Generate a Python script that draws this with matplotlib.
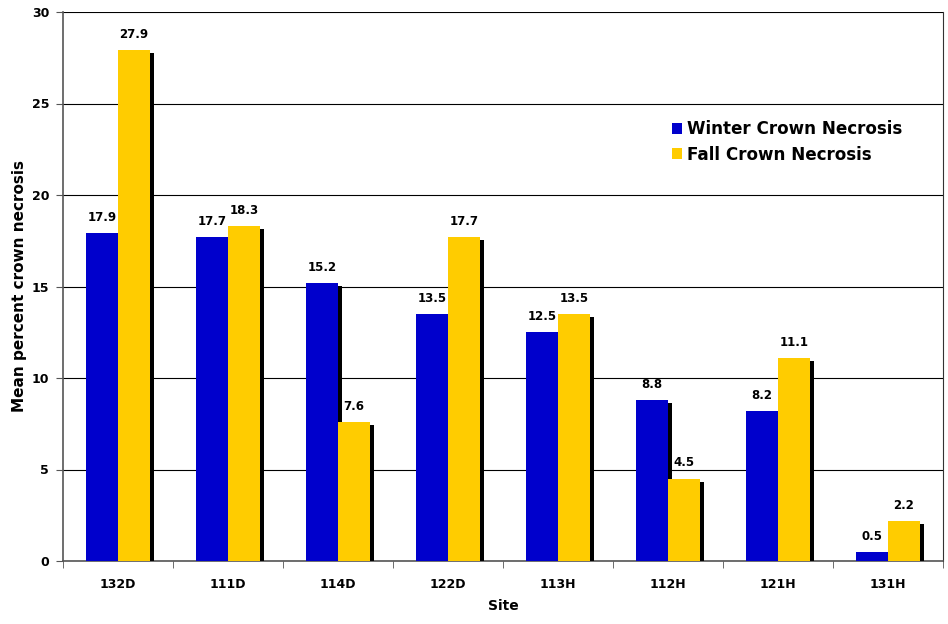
import matplotlib
matplotlib.use("Agg")
import matplotlib.pyplot as plt
import matplotlib.patheffects as pe
import numpy as np

sites = ["132D", "111D", "114D", "122D", "113H", "112H", "121H", "131H"]
winter = [17.9, 17.7, 15.2, 13.5, 12.5, 8.8, 8.2, 0.5]
fall = [27.9, 18.3, 7.6, 17.7, 13.5, 4.5, 11.1, 2.2]
series_names = ["Winter Crown Necrosis", "Fall Crown Necrosis"]
colors = ["#0000CC", "#FFCC00"]

plt.rcParams['font.family'] = ['DejaVu Sans']
fig = plt.figure(figsize=(9.48, 6.24), dpi=100)
ax = fig.add_axes([63/948, 63/624, 880/948, 549/624])

x = np.arange(len(sites))
w = 0.29
shadow = [pe.SimplePatchShadow(offset=(2.8, -2.2), shadow_rgbFace='black', alpha=1.0), pe.Normal()]
b1 = ax.bar(x - w/2, winter, w, color=colors[0], label=series_names[0], zorder=3, path_effects=shadow)
b2 = ax.bar(x + w/2, fall, w, color=colors[1], label=series_names[1], zorder=3, path_effects=shadow)

for xi, v in zip(x - w/2, winter):
    ax.text(xi, v + 0.5, f"{v:.1f}", ha='center', va='bottom', fontsize=8.5, fontweight='bold', zorder=4)
for xi, v in zip(x + w/2, fall):
    ax.text(xi, v + 0.5, f"{v:.1f}", ha='center', va='bottom', fontsize=8.5, fontweight='bold', zorder=4)

ax.set_xlim(-0.5, len(sites) - 0.5)
ax.set_ylim(0, 30)
ax.set_yticks(np.arange(0, 31, 5))
ax.yaxis.grid(True, color='black', linewidth=0.8, zorder=0)
ax.set_axisbelow(True)
ax.set_xticks(x)
ax.set_xticklabels(sites, fontsize=9, fontweight='bold')
ax.set_xticks(np.arange(-0.5, len(sites), 1), minor=True)
ax.tick_params(axis='x', which='major', length=0, pad=12)
ax.tick_params(axis='x', which='minor', length=5, direction='out', color='#555555')
ax.tick_params(axis='y', length=5, direction='out', labelsize=9, color='#555555', pad=5)
for lab in ax.get_yticklabels():
    lab.set_fontweight('bold')
for s in ['left', 'bottom']:
    ax.spines[s].set_color('#555555')
    ax.spines[s].set_linewidth(1.2)
ax.spines['top'].set_visible(False)
ax.spines['right'].set_color('#333333')
ax.spines['right'].set_linewidth(0.8)

ax.set_xlabel("Site", fontsize=10, fontweight='bold', labelpad=6)
ax.set_ylabel("Mean percent crown necrosis", fontsize=11, fontweight='bold', labelpad=3)

leg = ax.legend(loc='upper left', bbox_to_anchor=(0.675, 0.83), frameon=False,
                prop={'size': 12.1, 'weight': 'bold'}, handlelength=0.6, handleheight=0.6,
                handletextpad=0.3, labelspacing=0.42)
for h in leg.legend_handles:
    h.set_path_effects([])

fig.savefig("out.png", dpi=100)
